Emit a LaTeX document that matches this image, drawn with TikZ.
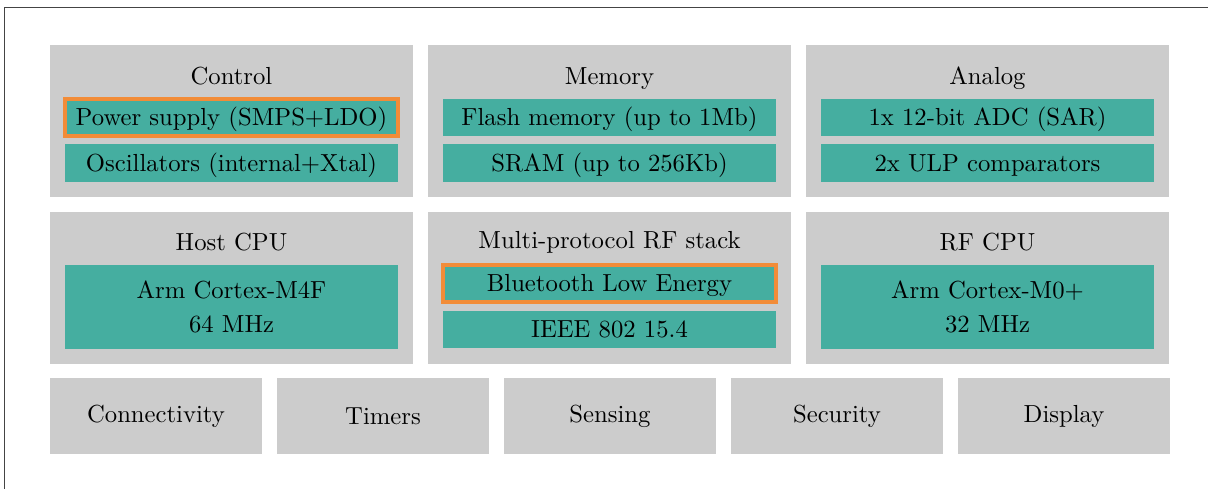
\documentclass[tikz,border=0pt]{standalone}
\definecolor{boxgray}{HTML}{CCCCCC}
\definecolor{tealc}{HTML}{45AEA0}
\definecolor{orangec}{HTML}{F28C38}
\definecolor{framec}{HTML}{444444}
\begin{document}
\begin{tikzpicture}[x=0.4133pt,y=-0.4133pt,
  sz/.style 2 args={minimum width=#1*0.4133pt, minimum height=#2*0.4133pt},
  graybox/.style={fill=boxgray, draw=none, inner sep=0pt, font=\fontsize{10.2}{12}\selectfont},
  tealbox/.style={fill=tealc, draw=none, inner sep=0pt, align=center, font=\fontsize{10.2}{14}\selectfont},
  oneline/.style={text height=7pt, text depth=0pt},
  hilite/.style={draw=orangec, line width=1.6pt},
  title/.style={anchor=base, inner sep=0pt, font=\fontsize{10.2}{12}\selectfont},
  framestyle/.style={draw=framec, line width=0.7pt}]
\clip (0,0) rectangle (1208,488);
\draw[framestyle] (4.5,600) -- (4.5,7.5) -- (1400,7.5);

% Row 1
\node[graybox, sz={363}{152}] (control) at (231.5,121) {};
\node[title] (controlT) at (231.5,84) {Control};
\node[tealbox, oneline, hilite, sz={333}{37}] (power) at (231.5,117.5) {Power supply (SMPS+LDO)};
\node[tealbox, oneline, sz={333}{37.5}] (osc) at (231.5,162.75) {Oscillators (internal+Xtal)};

\node[graybox, sz={363}{152}] (memory) at (609.5,121) {};
\node[title] (memoryT) at (609.5,84) {Memory};
\node[tealbox, oneline, sz={333}{37}] (flash) at (609.5,117.5) {Flash memory (up to 1Mb)};
\node[tealbox, oneline, sz={333}{37.5}] (sram) at (609.5,162.75) {SRAM (up to 256Kb)};

\node[graybox, sz={363}{152}] (analog) at (987.5,121) {};
\node[title] (analogT) at (987.5,84) {Analog};
\node[tealbox, oneline, sz={333}{37}] (adc) at (987.5,117.5) {1x 12-bit ADC (SAR)};
\node[tealbox, oneline, sz={333}{37.5}] (comp) at (987.5,162.75) {2x ULP comparators};

% Row 2
\node[graybox, sz={363}{152}] (host) at (231.5,288) {};
\node[title] (hostT) at (231.5,250) {Host CPU};
\node[tealbox, sz={333}{84}] (m4) at (231.5,307) {Arm Cortex-M4F\\64 MHz};

\node[graybox, sz={363}{152}] (rf) at (609.5,288) {};
\node[title] (rfT) at (609.5,248) {Multi-protocol RF stack};
\node[tealbox, oneline, hilite, sz={333}{37}] (ble) at (609.5,283.5) {Bluetooth Low Energy};
\node[tealbox, oneline, sz={333}{37.5}] (ieee) at (609.5,329.25) {IEEE 802 15.4};

\node[graybox, sz={363}{152}] (rfcpu) at (987.5,288) {};
\node[title] (rfcpuT) at (987.5,250) {RF CPU};
\node[tealbox, sz={333}{84}] (m0) at (987.5,307) {Arm Cortex-M0+\\32 MHz};

% Row 3
\node[graybox, sz={212}{76}] (conn) at (156,416) {Connectivity};
\node[graybox, sz={212}{76}] (timers) at (383,416) {Timers};
\node[graybox, sz={212}{76}] (sensing) at (610,416) {Sensing};
\node[graybox, sz={212}{76}] (security) at (837,416) {Security};
\node[graybox, sz={212}{76}] (display) at (1064,416) {Display};
\end{tikzpicture}
\end{document}
